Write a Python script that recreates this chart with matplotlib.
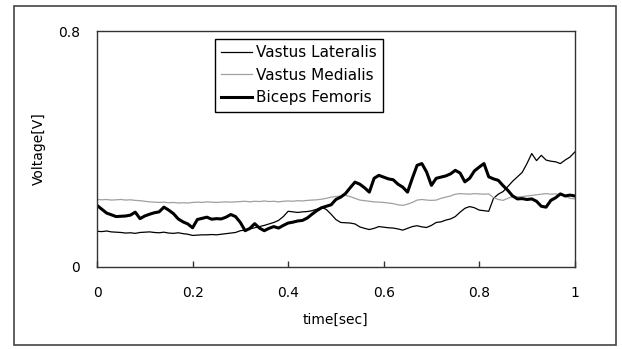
import numpy as np
import matplotlib.pyplot as plt
from matplotlib.patches import Rectangle

# time axis, 0.01 s steps
time = np.linspace(0, 1, 101)

vastus_lateralis = [
    0.120, 0.119, 0.121, 0.118, 0.117, 0.116, 0.114, 0.115, 0.113, 0.116, 0.117,
    0.118, 0.116, 0.115, 0.117, 0.114, 0.113, 0.115, 0.112, 0.110, 0.106,
    0.107, 0.108, 0.108, 0.109, 0.108, 0.110, 0.112, 0.114, 0.116, 0.122,
    0.124, 0.128, 0.132, 0.136, 0.140, 0.145, 0.150, 0.157, 0.170, 0.188,
    0.186, 0.184, 0.186, 0.187, 0.190, 0.195, 0.202, 0.194, 0.178, 0.160,
    0.150, 0.149, 0.148, 0.145, 0.135, 0.130, 0.126, 0.130, 0.136, 0.134,
    0.132, 0.131, 0.128, 0.124, 0.130, 0.136, 0.139, 0.135, 0.133, 0.140,
    0.150, 0.152, 0.158, 0.162, 0.170, 0.185, 0.198, 0.204, 0.200, 0.192,
    0.190, 0.188, 0.232, 0.246, 0.255, 0.272, 0.290, 0.305, 0.320, 0.350,
    0.384, 0.360, 0.378, 0.362, 0.358, 0.356, 0.350, 0.362, 0.372, 0.389,
]

vastus_medialis = [
    0.228, 0.227, 0.228, 0.226, 0.227, 0.228, 0.226, 0.227, 0.225, 0.224, 0.222,
    0.220, 0.219, 0.218, 0.219, 0.217, 0.218, 0.216, 0.217, 0.216, 0.218,
    0.219, 0.218, 0.220, 0.219, 0.218, 0.219, 0.220, 0.219, 0.220, 0.221,
    0.222, 0.220, 0.222, 0.221, 0.223, 0.221, 0.222, 0.220, 0.222, 0.223,
    0.222, 0.224, 0.223, 0.225, 0.226, 0.227, 0.229, 0.232, 0.236, 0.238,
    0.240, 0.242, 0.238, 0.232, 0.226, 0.224, 0.222, 0.220, 0.219, 0.218,
    0.216, 0.214, 0.210, 0.208, 0.212, 0.218, 0.226, 0.228, 0.226, 0.225,
    0.226, 0.232, 0.236, 0.240, 0.246, 0.248, 0.247, 0.246, 0.248, 0.247,
    0.246, 0.247, 0.234, 0.228, 0.225, 0.232, 0.238, 0.237, 0.238, 0.240,
    0.242, 0.244, 0.246, 0.248, 0.246, 0.247, 0.244, 0.240, 0.232, 0.230,
]

biceps_femoris = [
    0.208, 0.195, 0.182, 0.176, 0.170, 0.171, 0.172, 0.175, 0.185, 0.163, 0.172,
    0.178, 0.183, 0.186, 0.202, 0.192, 0.180, 0.162, 0.152, 0.145, 0.132,
    0.160, 0.164, 0.168, 0.161, 0.163, 0.162, 0.168, 0.177, 0.170, 0.150,
    0.122, 0.130, 0.146, 0.131, 0.122, 0.130, 0.136, 0.131, 0.140, 0.148,
    0.151, 0.155, 0.157, 0.165, 0.178, 0.190, 0.200, 0.205, 0.210, 0.228,
    0.236, 0.248, 0.268, 0.287, 0.280, 0.268, 0.253, 0.300, 0.310, 0.304,
    0.298, 0.295, 0.280, 0.270, 0.253, 0.300, 0.344, 0.350, 0.321, 0.276,
    0.300, 0.304, 0.308, 0.315, 0.327, 0.318, 0.288, 0.300, 0.325, 0.338,
    0.350, 0.305, 0.298, 0.293, 0.275, 0.259, 0.240, 0.230, 0.231, 0.228,
    0.230, 0.222, 0.205, 0.202, 0.225, 0.234, 0.247, 0.240, 0.243, 0.240,
]

xticks = [0, 0.2, 0.4, 0.6, 0.8, 1]
xtick_labels = ["0", "0.2", "0.4", "0.6", "0.8", "1"]
yticks = [0, 0.8]
ytick_labels = ["0", "0.8"]

plt.rcParams['font.family'] = ['DejaVu Sans']

fig = plt.figure(figsize=(6.22, 3.49), dpi=100)
ax = fig.add_axes([0.156, 0.236, 0.768, 0.675])

ax.plot(time, vastus_lateralis, color='black', lw=0.9, label='Vastus Lateralis')
ax.plot(time, vastus_medialis, color='#a0a0a0', lw=0.9, label='Vastus Medialis')
ax.plot(time, biceps_femoris, color='black', lw=2.2, label='Biceps Femoris')

ax.set_xlim(0, 1)
ax.set_ylim(0, 0.8)
ax.set_xticks(xticks)
ax.set_xticklabels(xtick_labels)
ax.set_yticks(yticks)
ax.set_yticklabels(ytick_labels)
ax.tick_params(axis='x', direction='in', length=4, width=1, pad=14, labelsize=10, color='#333333')
ax.tick_params(axis='y', length=0, pad=12, labelsize=10)
for s in ax.spines.values():
    s.set_color('#333333')
    s.set_linewidth(1)

ax.set_xlabel('time[sec]', fontsize=10, labelpad=9)
ax.set_ylabel('Voltage[V]', fontsize=10, labelpad=9)

leg = ax.legend(loc='upper left', bbox_to_anchor=(0.247, 0.966), borderaxespad=0,
                fancybox=False, edgecolor='black', framealpha=1, fontsize=11,
                handlelength=2.0, handletextpad=0.3, labelspacing=0.5,
                borderpad=0.4)
leg.get_frame().set_linewidth(1)

# outer border round the whole chart
fig.patches.append(Rectangle((0.0225, 0.0115), 0.968, 0.971, transform=fig.transFigure,
                             fill=False, edgecolor='#444444', lw=1.2))

plt.savefig('out.png', dpi=100)
